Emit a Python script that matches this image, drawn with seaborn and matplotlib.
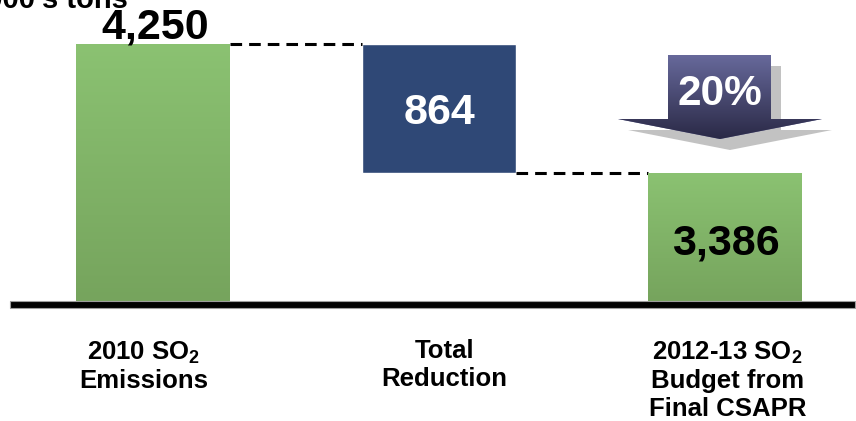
import numpy as np
import pandas as pd
import matplotlib
matplotlib.use("Agg")
import matplotlib.pyplot as plt
import seaborn as sns
from matplotlib.colors import to_rgb
from matplotlib.patches import Polygon, Rectangle
from matplotlib.transforms import blended_transform_factory, offset_copy

# --- data -------------------------------------------------------------
stage_keys = ["emissions_2010", "total_reduction", "budget_2012_13"]
tick_labels = [
    "2010 SO$_\\mathregular{2}$\nEmissions",
    "Total\nReduction",
    "2012-13 SO$_\\mathregular{2}$\nBudget from\nFinal CSAPR",
]
values = [4250, 864, 3386]          # thousand tons
value_labels = ["4,250", "864", "3,386"]
reduction_pct = "20%"
unit_label = "1,000's tons"

# --- style ------------------------------------------------------------
sns.set_theme(style="white")
plt.rcParams["font.family"] = ["Liberation Sans", "DejaVu Sans"]
plt.rcParams["font.weight"] = "bold"

W, H, DPI = 856, 421, 100
GREEN_TOP, GREEN_BOT = "#8bc272", "#76a45d"
NAVY = "#2f4876"
ARROW_TOP, ARROW_BOT = "#67699b", "#2a2946"
BAR_W = 0.538

fig = plt.figure(figsize=(W / DPI, H / DPI), dpi=DPI)
base_px = 301  # pixel row of the baseline
ax = fig.add_axes([0, (H - base_px) / H, 1, base_px / H])

tops = [values[0], values[0], values[2]]
df = pd.DataFrame({"stage": stage_keys, "top": tops})
sns.barplot(data=df, x="stage", y="top", hue="stage",
            palette=[GREEN_TOP, NAVY, GREEN_TOP], width=BAR_W,
            saturation=1, legend=False, ax=ax, zorder=2)

ymin, ymax = 2528.6, 4544.7
ax.set_xlim(-0.5345, 2.456)
ax.set_ylim(ymin, ymax)
ax.set_axis_off()

# float the reduction bar between the budget and the 2010 level
bars = sorted(ax.patches, key=lambda p: p.get_x())
mid = bars[1]
mid.set_y(values[2])
mid.set_height(values[1])


def vgrad(c_top, c_bot, n=256):
    a, b = np.array(to_rgb(c_top)), np.array(to_rgb(c_bot))
    t = np.linspace(0, 1, n)[:, None]
    return (a * (1 - t) + b * t)[:, None, :]


# soft vertical shading on the green bars
for p in (bars[0], bars[2]):
    x0, x1 = p.get_x(), p.get_x() + p.get_width()
    top = p.get_y() + p.get_height()
    im = ax.imshow(vgrad(GREEN_TOP, GREEN_BOT), extent=(x0, x1, ymin, top),
                   origin="upper", aspect="auto", zorder=3, interpolation="bilinear")
    im.set_clip_path(p)
ax.set_xlim(-0.5345, 2.456)
ax.set_ylim(ymin, ymax)

# dashed connectors
dash_kw = dict(color="black", lw=2.2, ls=(0, (3.8, 2.3)), zorder=2)
ax.plot([0 + BAR_W / 2, 1 - BAR_W / 2], [values[0], values[0]], **dash_kw)
ax.plot([1 + BAR_W / 2, 2 - BAR_W / 2], [values[2], values[2]], **dash_kw)

# value labels
lab_kw = dict(fontsize=31, fontweight="bold", ha="center", va="baseline",
              textcoords="offset points", zorder=5)
ax.annotate(value_labels[0], xy=(0, values[0]), xytext=(1.5, 4.3), color="black", **lab_kw)
ax.annotate(value_labels[1], xy=(1, values[2] + values[1] / 2), xytext=(0, -11.5),
            color="white", **lab_kw)
ax.annotate(value_labels[2], xy=(2, values[2]), xytext=(0, -59), color="black", **lab_kw)

# overlay in pixel units for the baseline, arrow and captions
ov = fig.add_axes([0, 0, 1, 1], zorder=5)
ov.set_xlim(0, W)
ov.set_ylim(H, 0)
ov.set_axis_off()
ov.patch.set_alpha(0)

ov.add_patch(Rectangle((10, 301), 845, 7, facecolor="black",
                       edgecolor="#9c9c9c", lw=0.8))

arrow_pts = np.array([(668, 55), (771, 55), (771, 119), (822, 119),
                      (720, 139), (618, 119), (668, 119)])
shadow = Polygon(arrow_pts + np.array([10, 11]), closed=True,
                 facecolor="#c2c2c2", edgecolor="none", zorder=1)
ov.add_patch(shadow)
arrow = Polygon(arrow_pts, closed=True, facecolor=ARROW_TOP,
                edgecolor="none", zorder=2)
ov.add_patch(arrow)
aim = ov.imshow(vgrad(ARROW_TOP, ARROW_BOT), extent=(618, 822, 139, 55),
                origin="upper", aspect="auto", zorder=3, interpolation="bilinear")
aim.set_clip_path(arrow)
ov.set_xlim(0, W)
ov.set_ylim(H, 0)
ov.text(719.5, 105, reduction_pct, color="white", fontsize=30.5,
        fontweight="bold", ha="center", va="baseline", zorder=4)

# unit caption at the top left
ov.text(128, 7, unit_label, fontsize=21, fontweight="bold",
        ha="right", va="baseline", color="black")

# category labels under the baseline
trans = blended_transform_factory(ax.transData, ov.transData)
label_nudge_px = [-9, 5, 2]
for i, lab in enumerate(tick_labels):
    t = offset_copy(trans, fig=fig, x=label_nudge_px[i], y=0, units="dots")
    ov.text(i, 339, lab, transform=t, fontsize=18.5, fontweight="bold",
            ha="center", va="top", multialignment="center", color="black")

fig.savefig("out.png", dpi=DPI)
